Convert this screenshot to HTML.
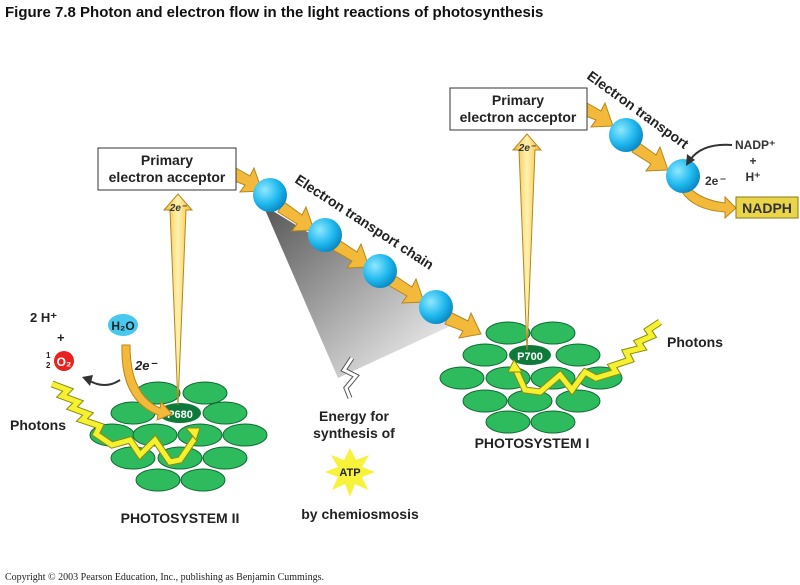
<!DOCTYPE html>
<html><head><meta charset="utf-8"><style>
body{margin:0;background:#fff;}
svg{display:block;font-family:"Liberation Sans",sans-serif;}
</style></head><body>
<svg width="800" height="585" viewBox="0 0 800 585" xmlns="http://www.w3.org/2000/svg">
<defs>
<radialGradient id="b" cx="35%" cy="35%" r="70%"><stop offset="0" stop-color="#8fe8ff"/><stop offset="0.6" stop-color="#1fb8ee"/><stop offset="1" stop-color="#0a86c4"/></radialGradient>
<linearGradient id="g" x1="0" y1="0" x2="1" y2="1"><stop offset="0" stop-color="#555"/><stop offset="0.6" stop-color="#bbb"/><stop offset="1" stop-color="#fff"/></linearGradient>
<linearGradient id="ya" x1="0" y1="0" x2="1" y2="0"><stop offset="0" stop-color="#f0b830"/><stop offset="0.5" stop-color="#fff2b0"/><stop offset="1" stop-color="#f0b830"/></linearGradient>
</defs>
<text x="5" y="17" font-size="15" font-weight="bold" fill="#111">Figure 7.8  Photon and electron flow in the light reactions of photosynthesis</text>

<polygon points="263,205 457,323 338,378" fill="url(#g)"/>
<polyline points="352,358 344,370 356,376 346,388 350,398" fill="none" stroke="#555" stroke-width="5"/>
<polyline points="352,358 344,370 356,376 346,388 350,398" fill="none" stroke="#fff" stroke-width="3"/>

<g fill="#2dbb5e" stroke="#0e6a30" stroke-width="1">
<ellipse cx="158" cy="393" rx="22" ry="11"/><ellipse cx="205" cy="393" rx="22" ry="11"/>
<ellipse cx="133" cy="413" rx="22" ry="11"/><ellipse cx="225" cy="413" rx="22" ry="11"/>
<ellipse cx="112" cy="435" rx="22" ry="11"/><ellipse cx="155" cy="435" rx="22" ry="11"/><ellipse cx="200" cy="435" rx="22" ry="11"/><ellipse cx="245" cy="435" rx="22" ry="11"/>
<ellipse cx="133" cy="458" rx="22" ry="11"/><ellipse cx="180" cy="458" rx="22" ry="11"/><ellipse cx="225" cy="458" rx="22" ry="11"/>
<ellipse cx="158" cy="480" rx="22" ry="11"/><ellipse cx="203" cy="480" rx="22" ry="11"/>
</g>
<ellipse cx="180" cy="413" rx="21" ry="10" fill="#0d7a3a"/>
<text x="180" y="418" font-size="11" font-weight="bold" fill="#fff" text-anchor="middle">P680</text>

<g fill="#2dbb5e" stroke="#0e6a30" stroke-width="1">
<ellipse cx="508" cy="333" rx="22" ry="11"/><ellipse cx="553" cy="333" rx="22" ry="11"/>
<ellipse cx="485" cy="355" rx="22" ry="11"/><ellipse cx="578" cy="355" rx="22" ry="11"/>
<ellipse cx="462" cy="378" rx="22" ry="11"/><ellipse cx="508" cy="378" rx="22" ry="11"/><ellipse cx="553" cy="378" rx="22" ry="11"/><ellipse cx="600" cy="378" rx="22" ry="11"/>
<ellipse cx="485" cy="401" rx="22" ry="11"/><ellipse cx="530" cy="401" rx="22" ry="11"/><ellipse cx="578" cy="401" rx="22" ry="11"/>
<ellipse cx="508" cy="422" rx="22" ry="11"/><ellipse cx="553" cy="422" rx="22" ry="11"/>
</g>
<ellipse cx="530" cy="355" rx="21" ry="10" fill="#0d7a3a"/>
<text x="530" y="360" font-size="11" font-weight="bold" fill="#fff" text-anchor="middle">P700</text>

<polygon points="178,405 170,210 164,210 178,194 192,210 186,210" fill="url(#ya)" stroke="#b8861a" stroke-width="1"/>
<text x="178" y="211" font-size="10" font-weight="bold" font-style="italic" text-anchor="middle" fill="#333">2e⁻</text>
<polygon points="527,350 519,150 513,150 527,134 541,150 535,150" fill="url(#ya)" stroke="#b8861a" stroke-width="1"/>
<text x="527" y="151" font-size="10" font-weight="bold" font-style="italic" text-anchor="middle" fill="#333">2e⁻</text>

<g fill="#f2b93a" stroke="#b8861a" stroke-width="1">
<polygon points="236,168 250,176 254,168 262,191 240,192 245,185 232,180"/>
<polygon points="284,202 302,215 306,207 314,230 292,231 297,224 278,212"/>
<polygon points="339,240 357,252 361,244 369,267 347,268 352,261 333,250"/>
<polygon points="394,275 412,287 416,279 424,302 402,303 407,296 388,285"/>
<polygon points="450,312 468,321 471,313 481,334 459,338 463,331 445,324"/>
<polygon points="587,103 601,111 605,103 613,126 591,127 596,120 583,115"/>
<polygon points="638,142 656,155 660,147 668,170 646,171 651,164 632,152"/>
<path d="M688,186 Q700,200 725,203 L725,197 L736,208 L725,218 L725,212 Q694,210 682,192 Z"/>
<path d="M122,345 L130,345 Q130,395 160,408 L161,402 L172,414 L157,420 L158,415 Q120,400 122,345 Z"/>
</g>
<g fill="url(#b)">
<circle cx="270" cy="195" r="17"/><circle cx="325" cy="235" r="17"/><circle cx="380" cy="271" r="17"/><circle cx="436" cy="307" r="17"/>
<circle cx="626" cy="135" r="17"/><circle cx="683" cy="176" r="17"/>
</g>

<rect x="98" y="148" width="138" height="42" fill="#fff" stroke="#333" stroke-width="1"/>
<text x="167" y="165" font-size="14" font-weight="bold" text-anchor="middle" fill="#222">Primary</text>
<text x="167" y="182" font-size="14" font-weight="bold" text-anchor="middle" fill="#222">electron acceptor</text>
<rect x="450" y="88" width="137" height="42" fill="#fff" stroke="#333" stroke-width="1"/>
<text x="518" y="105" font-size="14" font-weight="bold" text-anchor="middle" fill="#222">Primary</text>
<text x="518" y="122" font-size="14" font-weight="bold" text-anchor="middle" fill="#222">electron acceptor</text>

<text transform="translate(294,182) rotate(33)" font-size="14" font-weight="bold" fill="#222">Electron transport chain</text>
<text transform="translate(586,78) rotate(36)" font-size="14" font-weight="bold" fill="#222">Electron transport</text>

<path d="M732,145 Q702,143 690,160" fill="none" stroke="#333" stroke-width="2"/>
<polygon points="686,166 687,154 695,160" fill="#333"/>
<text x="735" y="149" font-size="12" font-weight="bold" fill="#333">NADP⁺</text>
<text x="753" y="165" font-size="12" font-weight="bold" fill="#333" text-anchor="middle">+</text>
<text x="753" y="181" font-size="12" font-weight="bold" fill="#333" text-anchor="middle">H⁺</text>
<text x="705" y="185" font-size="12" font-weight="bold" fill="#333">2e<tspan font-style="italic">⁻</tspan></text>
<rect x="736" y="197" width="62" height="21" fill="#e9d44a" stroke="#8a7a10"/>
<text x="767" y="213" font-size="14" font-weight="bold" text-anchor="middle" fill="#333">NADPH</text>

<text x="30" y="322" font-size="13" font-weight="bold" fill="#222">2 H⁺</text>
<text x="57" y="342" font-size="13" font-weight="bold" fill="#222">+</text>
<text x="46" y="358" font-size="8" font-weight="bold" fill="#222">1</text>
<text x="46" y="368" font-size="8" font-weight="bold" fill="#222">2</text>
<circle cx="64" cy="361" r="10" fill="#e8221e"/>
<text x="64" y="366" font-size="12" font-weight="bold" fill="#fff" text-anchor="middle">O₂</text>
<ellipse cx="123" cy="325" rx="15" ry="11" fill="#46c8ef"/>
<text x="123" y="330" font-size="12" font-weight="bold" text-anchor="middle" fill="#222">H₂O</text>
<text x="135" y="370" font-size="13" font-weight="bold" font-style="italic" fill="#222">2e⁻</text>
<path d="M120,380 Q105,390 88,380" fill="none" stroke="#333" stroke-width="2"/>
<polygon points="82,377 93,375 90,386" fill="#333"/>
<text x="10" y="430" font-size="14" font-weight="bold" fill="#222">Photons</text>
<polyline points="52,384 68,390 62,396 78,402 72,408 88,414 82,420 100,426 96,434 112,445 130,440 140,455 155,440 170,462 180,460 195,438" fill="none" stroke="#8a8a10" stroke-width="7"/>
<polyline points="52,384 68,390 62,396 78,402 72,408 88,414 82,420 100,426 96,434 112,445 130,440 140,455 155,440 170,462 180,460 195,438" fill="none" stroke="#f5f030" stroke-width="5"/>
<polygon points="186,428 200,428 196,440" fill="#f5f030" stroke="#8a8a10"/>

<text x="667" y="347" font-size="14" font-weight="bold" fill="#222">Photons</text>
<polyline points="660,322 648,330 652,336 638,342 642,348 626,352 630,360 612,366 616,372 596,378 585,372 572,390 560,375 540,392 525,390 515,368" fill="none" stroke="#8a8a10" stroke-width="7"/>
<polyline points="660,322 648,330 652,336 638,342 642,348 626,352 630,360 612,366 616,372 596,378 585,372 572,390 560,375 540,392 525,390 515,368" fill="none" stroke="#f5f030" stroke-width="5"/>
<polygon points="508,372 522,372 514,360" fill="#f5f030" stroke="#8a8a10"/>

<text x="354" y="421" font-size="14" font-weight="bold" text-anchor="middle" fill="#222">Energy for</text>
<text x="354" y="438" font-size="14" font-weight="bold" text-anchor="middle" fill="#222">synthesis of</text>
<polygon points="350,448 356,460 369,455 362,467 375,472 362,477 368,490 355,484 350,497 345,484 332,490 338,477 325,472 338,467 331,455 344,460" fill="#f7f23a"/>
<text x="350" y="476" font-size="11" font-weight="bold" text-anchor="middle" fill="#222">ATP</text>
<text x="360" y="519" font-size="14" font-weight="bold" text-anchor="middle" fill="#222">by chemiosmosis</text>
<text x="180" y="523" font-size="14" font-weight="bold" text-anchor="middle" fill="#222">PHOTOSYSTEM II</text>
<text x="532" y="448" font-size="14" font-weight="bold" text-anchor="middle" fill="#222">PHOTOSYSTEM I</text>

<text x="5" y="580" font-size="10" font-family="Liberation Serif, serif" fill="#222">Copyright © 2003 Pearson Education, Inc., publishing as Benjamin Cummings.</text>
</svg>
</body></html>
